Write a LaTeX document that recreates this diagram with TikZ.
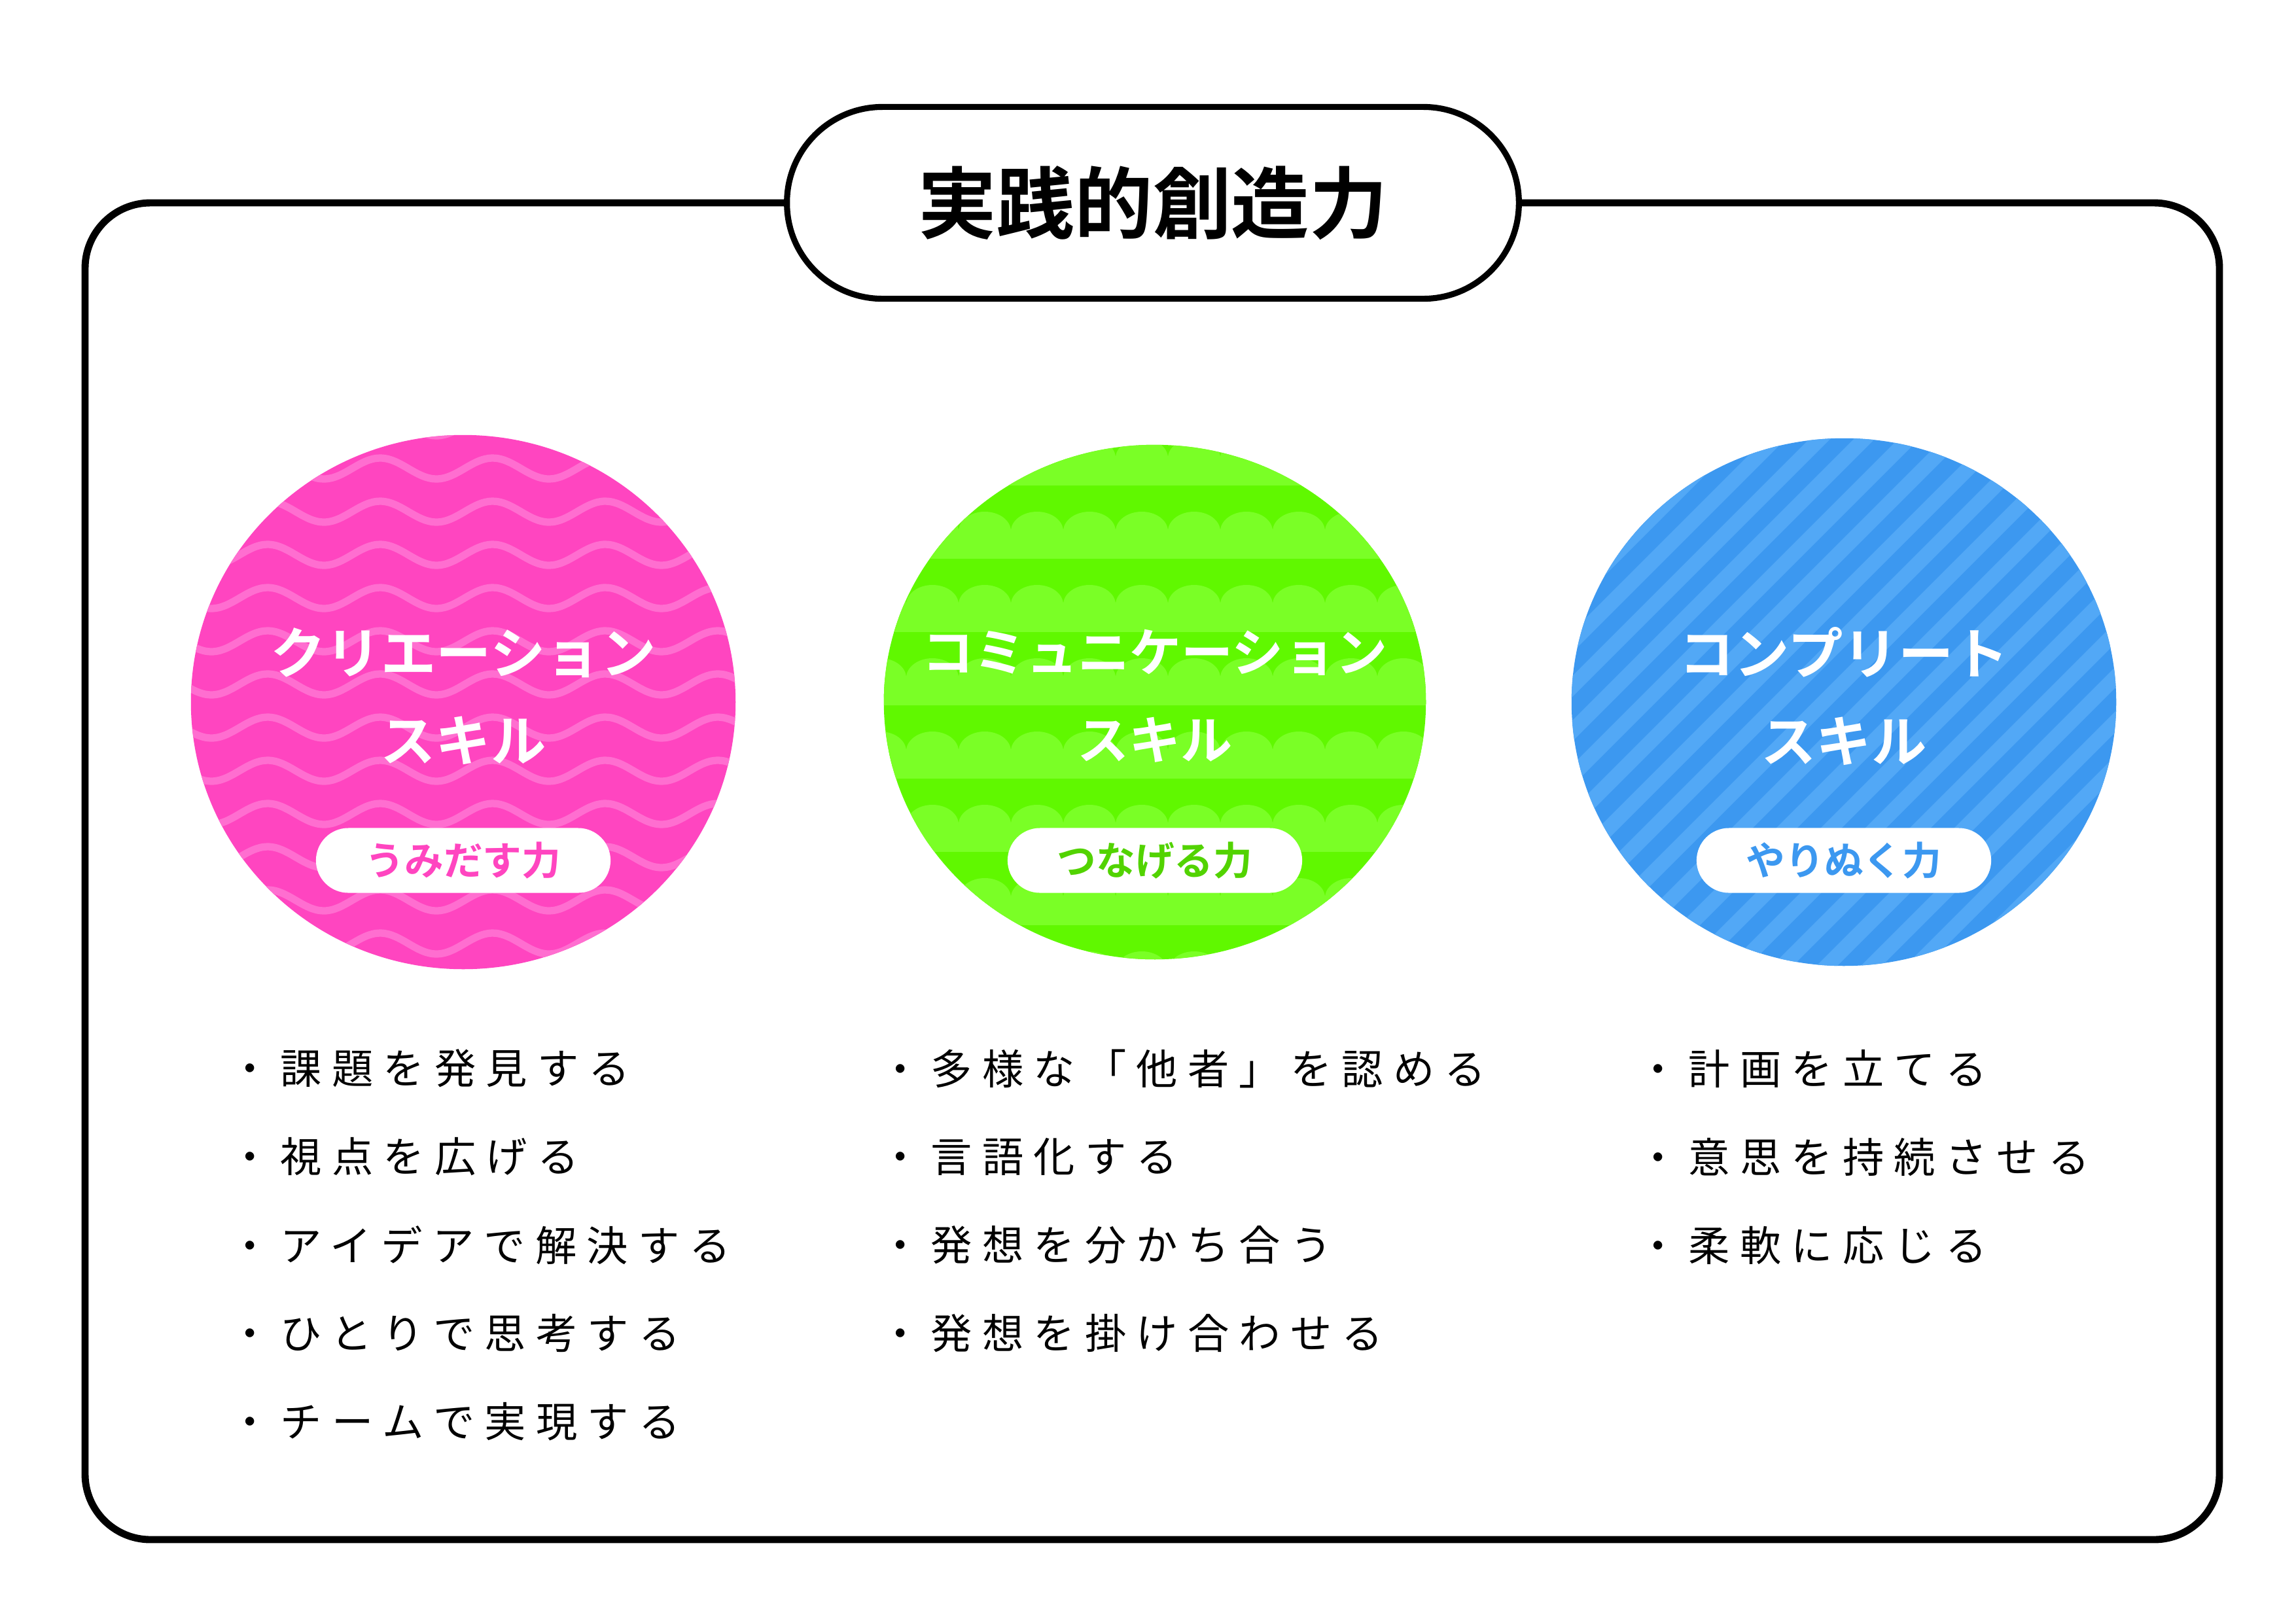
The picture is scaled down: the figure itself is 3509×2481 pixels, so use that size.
\documentclass[tikz,border=0pt]{standalone}
\usepackage{fontspec}
\setmainfont{Noto Sans CJK JP}
\newfontfamily\jpb{Noto Sans CJK JP Bold}
\newfontfamily\jpl[LetterSpace=24]{Noto Sans CJK JP}
\definecolor{pk}{HTML}{FF45C0}
\definecolor{pkl}{HTML}{FF6ED0}
\definecolor{gr}{HTML}{60F800}
\definecolor{grl}{HTML}{7AFF26}
\definecolor{bl}{HTML}{3C98F0}
\definecolor{bll}{HTML}{52A8F6}
\tikzset{
 frame/.style={draw=black,line width=3.1pt,rounded corners=1cm},
 ctitle/.style={text=white,font=\jpb\fontsize{24}{38}\selectfont,align=center},
 pill/.style={fill=white,rounded corners=0.495cm,minimum width=4.5cm,minimum height=0.99cm,inner sep=0pt,font=\jpb\fontsize{17}{18}\selectfont},
 item/.style={anchor=west,font=\jpl\fontsize{18}{20}\selectfont},
}
\begin{document}
\begin{tikzpicture}[x=0.01cm,y=-0.01cm]
\useasboundingbox (0,0) rectangle (3509,2481);
\fill[white] (0,0) rectangle (3509,2481);
\draw[frame] (130,310) rectangle (3392,2353);
\node[draw=black,line width=2.6pt,fill=white,rounded corners=1.46cm,minimum width=11.18cm,minimum height=2.93cm,font=\jpb\fontsize{34}{38}\selectfont] (title) at (1762,310) {実践的創造力};
% pink
\begin{scope}
\clip (708,1073) ellipse [x radius=4.16cm,y radius=4.08cm];
\fill[pk] (280,650) rectangle (1140,1500);
\foreach \r in {0,...,13}{
 \draw[pkl,line width=3.2pt] plot[domain=280:1140,samples=80,smooth] (\x,{650+\r*66+16*sin((\x-280)*2.093)});
}
\end{scope}
% green
\begin{scope}
\clip (1765,1073) ellipse [x radius=4.14cm,y radius=3.93cm];
\fill[gr] (1340,670) rectangle (2190,1480);
\foreach \r in {0,...,7}{
 \fill[grl] (1340,{700+\r*112}) rectangle (2190,{742+\r*112});
 \foreach \c in {0,...,11}{
  \fill[grl] ({1345+\c*80},{700+\r*112}) ellipse [x radius=0.4cm,y radius=0.3cm];
 }
}
\end{scope}
% blue
\begin{scope}
\clip (2818,1073) ellipse [x radius=4.16cm,y radius=4.03cm];
\fill[bl] (2390,660) rectangle (3250,1490);
\foreach \k in {0,...,30}{
 \fill[bll] ({1800+\k*68},1500) -- ({1832+\k*68},1500) -- ({1832+\k*68+860},640) -- ({1800+\k*68+860},640) -- cycle;
}
\end{scope}
\node[ctitle] (t1) at (708,1064) {クリエーション\\スキル};
\node[ctitle,font=\jpb\fontsize{22.5}{38}\selectfont] (t2) at (1765,1064) {コミュニケーション\\スキル};
\node[ctitle] (t3) at (2818,1064) {コンプリート\\スキル};
\node[pill,text=pk] (p1) at (708,1315) {うみだす力};
\node[pill,text=gr!85!black] (p2) at (1765,1315) {つなげる力};
\node[pill,text=bl] (p3) at (2818,1315) {やりぬく力};
\node[item] (a1) at (338,1633) {・課題を発見する};
\node[item] (a2) at (338,1768) {・視点を広げる};
\node[item] (a3) at (338,1903) {・アイデアで解決する};
\node[item] (a4) at (338,2038) {・ひとりで思考する};
\node[item] (a5) at (338,2173) {・チームで実現する};
\node[item] (b1) at (1332,1633) {・多様な「他者」を認める};
\node[item] (b2) at (1332,1768) {・言語化する};
\node[item] (b3) at (1332,1903) {・発想を分かち合う};
\node[item] (b4) at (1332,2038) {・発想を掛け合わせる};
\node[item] (c1) at (2490,1633) {・計画を立てる};
\node[item] (c2) at (2490,1768) {・意思を持続させる};
\node[item] (c3) at (2490,1903) {・柔軟に応じる};
\end{tikzpicture}
\end{document}
